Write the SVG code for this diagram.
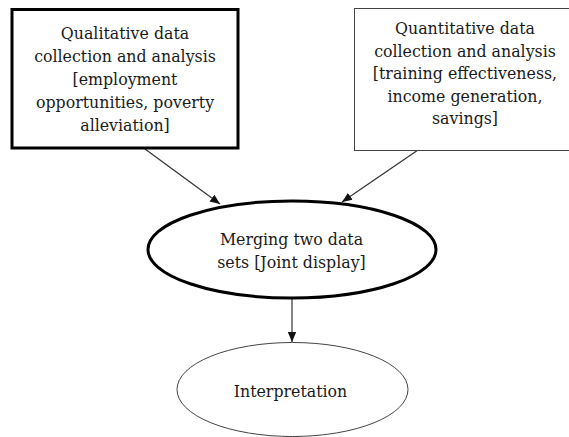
<svg xmlns="http://www.w3.org/2000/svg" width="569" height="437" viewBox="0 0 569 437">
  <style>
    .lbl { font-family: "DejaVu Serif", "Liberation Serif", serif; font-size: 15.8px; fill: #1a1a1a; text-anchor: middle; }
    .edge { stroke: #333; stroke-width: 1.2; fill: none; }
  </style>
  <defs>
    <marker id="arrow" viewBox="0 0 10 10" refX="10" refY="5" markerWidth="10" markerHeight="10" markerUnits="userSpaceOnUse" orient="auto">
      <path d="M0,0.8 L10,5 L0,9.2 Z" fill="#111"/>
    </marker>
  </defs>
  <rect width="569" height="437" fill="#fff"/>

  <g id="connectors">
    <line class="edge" x1="145" y1="149" x2="220" y2="204" marker-end="url(#arrow)"/>
    <line class="edge" x1="418" y1="150" x2="342" y2="202" marker-end="url(#arrow)"/>
    <line class="edge" x1="292" y1="299" x2="292" y2="342" marker-end="url(#arrow)"/>
  </g>

  <g id="qualitative">
    <rect x="12" y="9.5" width="226" height="138.5" fill="#fff" stroke="#000" stroke-width="3"/>
    <text class="lbl" x="125" y="39">Qualitative data</text>
    <text class="lbl" x="125" y="62">collection and analysis</text>
    <text class="lbl" x="125" y="85">[employment</text>
    <text class="lbl" x="125" y="108">opportunities, poverty</text>
    <text class="lbl" x="125" y="131">alleviation]</text>
  </g>

  <g id="quantitative">
    <rect x="354.5" y="8.5" width="222" height="142" fill="#fff" stroke="#444" stroke-width="1"/>
    <text class="lbl" x="465" y="34">Quantitative data</text>
    <text class="lbl" x="465" y="56.5">collection and analysis</text>
    <text class="lbl" x="465" y="79">[training effectiveness,</text>
    <text class="lbl" x="465" y="101.5">income generation,</text>
    <text class="lbl" x="465" y="124">savings]</text>
  </g>

  <g id="merging">
    <ellipse cx="292" cy="249.5" rx="144" ry="48.5" fill="#fff" stroke="#000" stroke-width="3"/>
    <text class="lbl" x="291.5" y="245">Merging two data</text>
    <text class="lbl" x="291.5" y="268">sets [Joint display]</text>
  </g>

  <g id="interpretation">
    <ellipse cx="292.5" cy="389.5" rx="115.5" ry="47" fill="#fff" stroke="#444" stroke-width="1"/>
    <text class="lbl" x="290.5" y="397">Interpretation</text>
  </g>
</svg>
